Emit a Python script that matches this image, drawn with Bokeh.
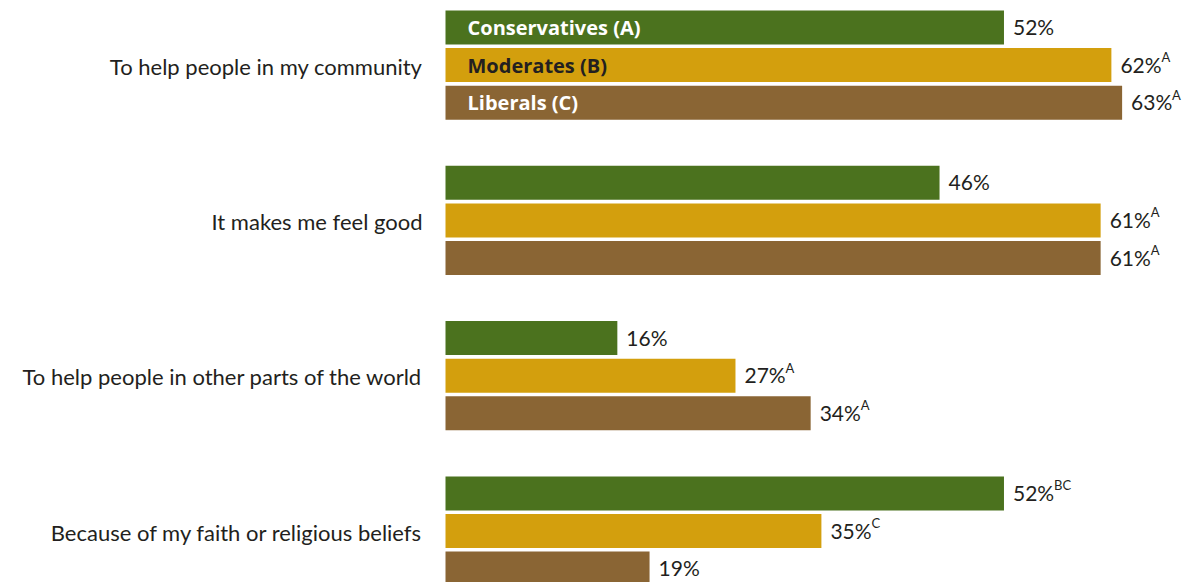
from bokeh.plotting import figure
from bokeh.models import ColumnDataSource, Range1d
from bokeh.core.properties import value
from bokeh.embed import file_html
from bokeh.resources import INLINE

# ---- data ----
categories = [
    "To help people in my community",
    "It makes me feel good",
    "To help people in other parts of the world",
    "Because of my faith or religious beliefs",
]
series_names = ["Conservatives (A)", "Moderates (B)", "Liberals (C)"]
conservatives = [52, 46, 16, 52]
moderates = [62, 61, 27, 35]
liberals = [63, 61, 34, 19]
sup_conservatives = ["", "", "", "BC"]
sup_moderates = ["A", "A", "A", "C"]
sup_liberals = ["A", "A", "A", ""]

# ---- style / layout ----
colors = ["#4B721E", "#D39F0D", "#8A6534"]
legend_text_colors = ["#FFFFFF", "#231F20", "#FFFFFF"]
FONT = "Lato"
TEXT = "#231F20"
W, H = 1183, 582
PX = 10.74          # pixels per percent
ZERO_X = 445        # zero position inside the frame
GROUP_PITCH = 155.3
BAR_PITCH = 37.6
BAR_H = 34
FIRST = 27

p = figure(width=W, height=H, output_backend="svg", toolbar_location=None,
           x_range=Range1d(-ZERO_X / PX, (W - ZERO_X) / PX),
           y_range=Range1d(H, 0),
           x_axis_type=None, y_axis_type=None, min_border=0)
p.outline_line_color = None
p.grid.visible = False
p.background_fill_color = "white"
p.border_fill_color = "white"

all_vals = [conservatives, moderates, liberals]
all_sups = [sup_conservatives, sup_moderates, sup_liberals]

for j, (vals, sups) in enumerate(zip(all_vals, all_sups)):
    ys = [FIRST + i * GROUP_PITCH + j * BAR_PITCH for i in range(len(categories))]
    src = ColumnDataSource(dict(
        y=ys, right=vals,
        label=[f"{v}%" for v in vals],
        sup=sups,
    ))
    p.hbar(y="y", left=0, right="right", height=BAR_H, source=src,
           fill_color=colors[j], line_color=None)
    p.text(x="right", y="y", text="label", source=src, x_offset=9, y_offset=-1,
           text_font=value(FONT), text_font_size="21px", text_color=TEXT,
           text_align="left", text_baseline="middle")
    p.text(x="right", y="y", text="sup", source=src, x_offset=50, y_offset=-8,
           text_font=value(FONT), text_font_size="13px", text_color=TEXT,
           text_align="left", text_baseline="middle")

# legend labels inside the first group's bars
leg_src = ColumnDataSource(dict(
    x=[0, 0, 0],
    y=[FIRST + j * BAR_PITCH for j in range(3)],
    text=series_names,
    color=legend_text_colors,
))
p.text(x="x", y="y", text="text", source=leg_src, x_offset=22, y_offset=0,
       text_font=value("Open Sans"), text_font_size="20px", text_font_style="bold",
       text_color="color", text_align="left", text_baseline="middle")

# category labels
cat_src = ColumnDataSource(dict(
    x=[0] * len(categories),
    y=[FIRST + i * GROUP_PITCH + BAR_PITCH for i in range(len(categories))],
    text=categories,
))
p.text(x="x", y="y", text="text", source=cat_src, x_offset=-23, y_offset=1,
       text_font=value(FONT), text_font_size="22px", text_color=TEXT,
       text_align="right", text_baseline="middle")

open("out.html", "w").write(file_html(p, INLINE))
